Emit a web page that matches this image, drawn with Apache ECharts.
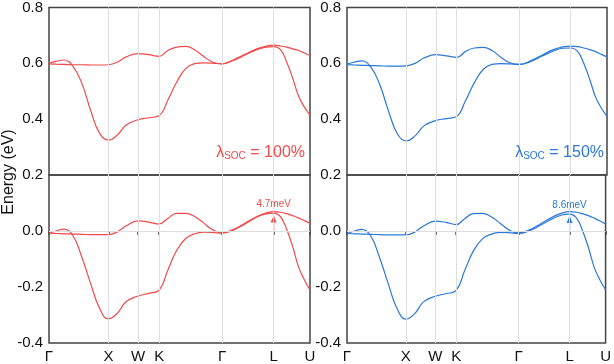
<!DOCTYPE html>
<html>
<head>
<meta charset="utf-8">
<script src="https://cdn.jsdelivr.net/npm/echarts@6/dist/echarts.min.js"></script>
<style>
  html, body { margin: 0; padding: 0; background: #fff; }
  #chart { width: 614px; height: 364px; }
</style>
</head>
<body>
<div id="chart"></div>
<script>
(function (window, echarts) {
    'use strict';

    // path position along Γ-X-W-K-Γ-L-U (units of 2π/a)
    const kPath = [0, 0.12, 0.25, 0.4, 0.55, 0.7, 0.85, 1.0, 1.15, 1.3, 1.5, 1.68, 1.854, 2.0, 2.15, 2.3,
        2.45, 2.6, 2.75, 2.914, 3.1, 3.3, 3.5, 3.65, 3.781, 3.9, 4.0, 4.1, 4.2, 4.3, 4.393];
    const kTicks = [0, 1, 1.5, 1.854, 2.914, 3.781, 4.393];
    const kTickLabels = ['Γ', 'X', 'W', 'K', 'Γ', 'L', 'U'];

    // λSOC = 100%
    const redTopA = [0.598, 0.597, 0.596, 0.595, 0.595, 0.594, 0.594, 0.595, 0.604, 0.623, 0.635, 0.631, 0.625, 0.646, 0.658, 0.661,
        0.649, 0.625, 0.605, 0.598, 0.612, 0.632, 0.652, 0.661, 0.665, 0.662, 0.658, 0.652, 0.646, 0.637, 0.628];
    const redTopB = [0.600, 0.607, 0.612, 0.590, 0.530, 0.432, 0.350, 0.325, 0.343, 0.379, 0.398, 0.405, 0.413, 0.468, 0.533, 0.581,
        0.599, 0.602, 0.601, 0.598, 0.610, 0.630, 0.649, 0.658, 0.660, 0.648, 0.605, 0.548, 0.483, 0.443, 0.414];
    const redBotA = [-0.008, -0.009, -0.010, -0.011, -0.012, -0.013, -0.013, -0.013, -0.003, 0.019, 0.036, 0.032, 0.025, 0.045, 0.063, 0.063,
        0.052, 0.029, 0.005, -0.006, 0.005, 0.028, 0.052, 0.064, 0.069, 0.067, 0.062, 0.055, 0.047, 0.037, 0.027];
    const redBotB = [-0.008, 0.000, 0.007, -0.015, -0.092, -0.187, -0.276, -0.314, -0.294, -0.252, -0.232, -0.223, -0.211, -0.140, -0.069, -0.027,
        -0.010, -0.004, -0.005, -0.008, 0.003, 0.025, 0.050, 0.061, 0.064, 0.050, 0.006, -0.055, -0.128, -0.175, -0.211];

    // λSOC = 150%
    const blueTopA = [0.595, 0.594, 0.593, 0.592, 0.591, 0.590, 0.590, 0.591, 0.600, 0.619, 0.631, 0.627, 0.621, 0.642, 0.655, 0.657,
        0.646, 0.622, 0.602, 0.596, 0.609, 0.630, 0.650, 0.659, 0.662, 0.660, 0.655, 0.649, 0.642, 0.632, 0.623];
    const blueTopB = [0.597, 0.604, 0.609, 0.587, 0.526, 0.430, 0.348, 0.322, 0.340, 0.376, 0.395, 0.402, 0.410, 0.465, 0.530, 0.578,
        0.596, 0.599, 0.598, 0.596, 0.606, 0.626, 0.645, 0.654, 0.655, 0.642, 0.600, 0.543, 0.479, 0.439, 0.410];
    const blueBotA = [-0.009, -0.010, -0.011, -0.012, -0.013, -0.014, -0.014, -0.014, -0.004, 0.018, 0.035, 0.031, 0.023, 0.044, 0.062, 0.063,
        0.051, 0.028, 0.004, -0.007, 0.004, 0.027, 0.051, 0.064, 0.069, 0.067, 0.062, 0.055, 0.046, 0.036, 0.025];
    const blueBotB = [-0.009, -0.001, 0.006, -0.016, -0.093, -0.188, -0.277, -0.315, -0.295, -0.253, -0.233, -0.224, -0.212, -0.141, -0.070, -0.028,
        -0.011, -0.005, -0.006, -0.009, 0.001, 0.022, 0.045, 0.057, 0.060, 0.046, 0.002, -0.058, -0.130, -0.176, -0.210];

    const socLabels = ['100%', '150%'];
    const gapLabels = ['4.7meV', '8.6meV'];
    const gapArrowTop = [0.054, 0.052];
    const kL = 3.781;

    const RED = '#f24a4a';
    const BLUE = '#2b78dc';
    const FONT = '"Liberation Sans", Arial, sans-serif';

    const zip = vals => kPath.map((k, i) => [k, vals[i]]);

    const grids = [
        { left: 49, right: 304, top: 7, height: 168 },
        { left: 49, right: 304, top: 175, height: 168 },
        { left: 347, right: 7, top: 7, height: 168 },
        { left: 347, right: 7, top: 175, height: 168 }
    ].map(g => Object.assign({ show: true, borderColor: '#444', borderWidth: 1.5, backgroundColor: 'transparent' }, g));

    const xAxes = grids.map((g, i) => {
        const bottom = i % 2 === 1;
        return {
            type: 'value', gridIndex: i, min: 0, max: kTicks[kTicks.length - 1],
            axisLine: { show: false },
            splitLine: { show: false },
            axisTick: { show: bottom, customValues: kTicks, length: 4, lineStyle: { color: '#444', width: 1.5 } },
            axisLabel: {
                show: bottom, customValues: kTicks, fontSize: 15, color: '#111', fontFamily: FONT, margin: 6,
                formatter: v => {
                    let idx = 0;
                    kTicks.forEach((t, j) => { if (Math.abs(t - v) < Math.abs(kTicks[idx] - v)) idx = j; });
                    return kTickLabels[idx];
                }
            }
        };
    });

    const yAxes = grids.map((g, i) => {
        const bottom = i % 2 === 1;
        return {
            type: 'value', gridIndex: i,
            min: bottom ? -0.4 : 0.2, max: bottom ? 0.2 : 0.8, interval: 0.2,
            axisLine: { show: false },
            axisTick: { show: false },
            splitLine: { show: false },
            axisLabel: {
                showMinLabel: bottom, fontSize: 15, color: '#111', fontFamily: FONT, margin: 6,
                formatter: v => v.toFixed(1)
            }
        };
    });

    const guideLines = bottom => {
        const data = kTicks.slice(1, -1).map(k => ({ xAxis: k }));
        if (bottom) data.push({ yAxis: 0 });
        return {
            silent: true, symbol: 'none', label: { show: false },
            lineStyle: { color: '#dedede', width: 1, type: 'solid' },
            data: data
        };
    };

    const band = (gi, vals, color, extra) => Object.assign({
        type: 'line', xAxisIndex: gi, yAxisIndex: gi, data: zip(vals),
        smooth: 0.45, symbol: 'none', lineStyle: { color: color, width: 1.2 }, z: 3
    }, extra || {});

    // arrow marking the band splitting at L
    const gapArrow = (gi, p, color) => ({
        type: 'line', xAxisIndex: gi, yAxisIndex: gi, silent: true, z: 4,
        showSymbol: true, lineStyle: { color: color, width: 1.2 }, itemStyle: { color: color },
        data: [
            { value: [kL, 0], symbol: 'none' },
            {
                value: [kL, gapArrowTop[p]], symbol: 'triangle', symbolSize: [6, 7], symbolOffset: [0, 3],
                label: { show: true, position: 'top', distance: 6, formatter: gapLabels[p], color: color, fontSize: 10, fontFamily: FONT }
            }
        ]
    });

    const series = [
        band(0, redTopA, RED, { markLine: guideLines(false) }),
        band(0, redTopB, RED),
        band(1, redBotA, RED, { markLine: guideLines(true) }),
        band(1, redBotB, RED),
        gapArrow(1, 0, RED),
        band(2, blueTopA, BLUE, { markLine: guideLines(false) }),
        band(2, blueTopB, BLUE),
        band(3, blueBotA, BLUE, { markLine: guideLines(true) }),
        band(3, blueBotB, BLUE),
        gapArrow(3, 1, BLUE)
    ];

    const socTitle = (p, color, right) => ({
        text: '{a|λ}{b|SOC}{a| = ' + socLabels[p] + '}',
        right: right, top: 143, padding: 0,
        textStyle: {
            fontWeight: 'normal',
            rich: {
                a: { fontSize: 16, color: color, fontFamily: FONT, fontWeight: 'normal', lineHeight: 20 },
                b: { fontSize: 10, color: color, fontFamily: FONT, fontWeight: 'normal', lineHeight: 20, padding: [7, 0, 0, 0] }
            }
        }
    });

    const chart = echarts.init(document.getElementById('chart'), null, { renderer: 'canvas' });
    chart.setOption({
        animation: false,
        backgroundColor: '#fff',
        title: [socTitle(0, RED, 309), socTitle(1, BLUE, 10)],
        graphic: [{
            type: 'text', x: 9, y: 172, rotation: Math.PI / 2,
            style: { text: 'Energy (eV)', fontSize: 16, fill: '#111', fontFamily: FONT, textAlign: 'center', textVerticalAlign: 'middle' }
        }],
        grid: grids,
        xAxis: xAxes,
        yAxis: yAxes,
        series: series
    });
})(window, echarts);
</script>
</body>
</html>
